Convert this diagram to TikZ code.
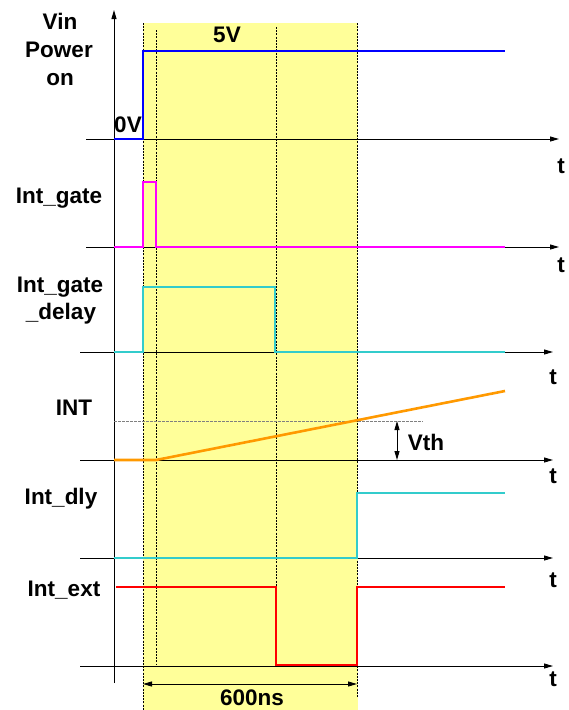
\documentclass[tikz,border=0pt]{standalone}
\usepackage{fontspec}
\setmainfont{Liberation Sans}
\usetikzlibrary{arrows.meta}
\definecolor{hilite}{RGB}{255,255,153}
\definecolor{sigblue}{RGB}{0,0,255}
\definecolor{sigmag}{RGB}{255,0,255}
\definecolor{sigcyan}{RGB}{51,204,204}
\definecolor{sigorange}{RGB}{255,153,0}
\definecolor{sigred}{RGB}{255,0,0}
\begin{document}
\begin{tikzpicture}[x=1pt,y=-1pt,
  lbl/.style={font=\fontsize{22.5}{26}\selectfont\bfseries,inner sep=0pt,anchor=base},
  axis/.style={line width=0.9pt,-{Triangle[length=9pt,width=5pt]}},
  sig/.style={line width=2.6pt,line join=miter},
  guide/.style={line width=0.8pt,dash pattern=on 2pt off 1.2pt},
  thr/.style={line width=1pt,gray,dash pattern=on 2.5pt off 1.5pt},
  dim/.style={line width=0.9pt,{Triangle[length=9pt,width=5pt]}-{Triangle[length=9pt,width=5pt]}}]
\useasboundingbox (0,0) rectangle (569,710);
% highlighted window
\fill[hilite] (142.5,23) rectangle (357.5,710);
% guide lines
\draw[guide] (143,23) -- (143,710);
\draw[guide] (156,30) -- (156,665);
\draw[guide] (276,27) -- (276,587);
\draw[guide] (357,23) -- (357,697);
% vertical axis
\coordinate (vtop) at (114,10);
\coordinate (vbot) at (114,683);
\draw[axis] (vbot) -- (vtop);
% horizontal axes
\foreach \name/\xs/\yy/\xe in {a1/86/139/559,a2/86/247/559,a3/80/352/553,a4/80/460/553,a5/80/558/553,a6/80/666/553}{
  \coordinate (\name s) at (\xs,\yy);
  \coordinate (\name e) at (\xe,\yy);
  \draw[axis] (\name s) -- (\name e);
}
% threshold
\coordinate (ths) at (114,421);
\coordinate (the) at (423,421);
\draw[thr] (ths) -- (the);
% signals
\draw[sig,sigblue] (114,139) -- (143,139) -- (143,51) -- (505,51);
\draw[sig,sigmag] (114,247) -- (143,247) -- (143,182) -- (156,182) -- (156,247) -- (505,247);
\draw[sig,sigcyan] (114,352) -- (143,352) -- (143,287) -- (275,287) -- (275,352) -- (505,352);
\draw[sig,sigorange] (114,460) -- (156,460) -- (505,391);
\draw[sig,sigcyan] (114,558) -- (357,558) -- (357,493) -- (505,493);
\draw[sig,sigred] (116,587) -- (276,587) -- (276,665) -- (357,665) -- (357,587) -- (505,587);
% Vth dimension
\coordinate (vthtop) at (397,421);
\coordinate (vthbot) at (397,460);
\draw[dim] (vthtop) -- (vthbot);
% 600ns dimension
\coordinate (dl) at (143,684);
\coordinate (dr) at (357,684);
\draw[dim] (dl) -- (dr);
% labels
\node[lbl] (vin) at (60,29) {Vin};
\node[lbl] (power) at (59,57) {Power};
\node[lbl] (on) at (60,85) {on};
\node[lbl] (fivev) at (227,42) {5V};
\node[lbl] (zerov) at (128,132) {0V};
\node[lbl] (igate) at (59,203) {Int\_gate};
\node[lbl] (igd1) at (60,292) {Int\_gate};
\node[lbl] (igd2) at (61,319) {\_delay};
\node[lbl] (int) at (74,415) {INT};
\node[lbl] (idly) at (61,504) {Int\_dly};
\node[lbl] (iext) at (64,596) {Int\_ext};
\node[lbl] (vth) at (426,450) {Vth};
\node[lbl] (ns) at (252,705) {600ns};
\node[lbl] (t1) at (561,173) {t};
\node[lbl] (t2) at (561,272) {t};
\node[lbl] (t3) at (553,384) {t};
\node[lbl] (t4) at (553,483) {t};
\node[lbl] (t5) at (553,587) {t};
\node[lbl] (t6) at (553,686) {t};
\end{tikzpicture}
\end{document}
